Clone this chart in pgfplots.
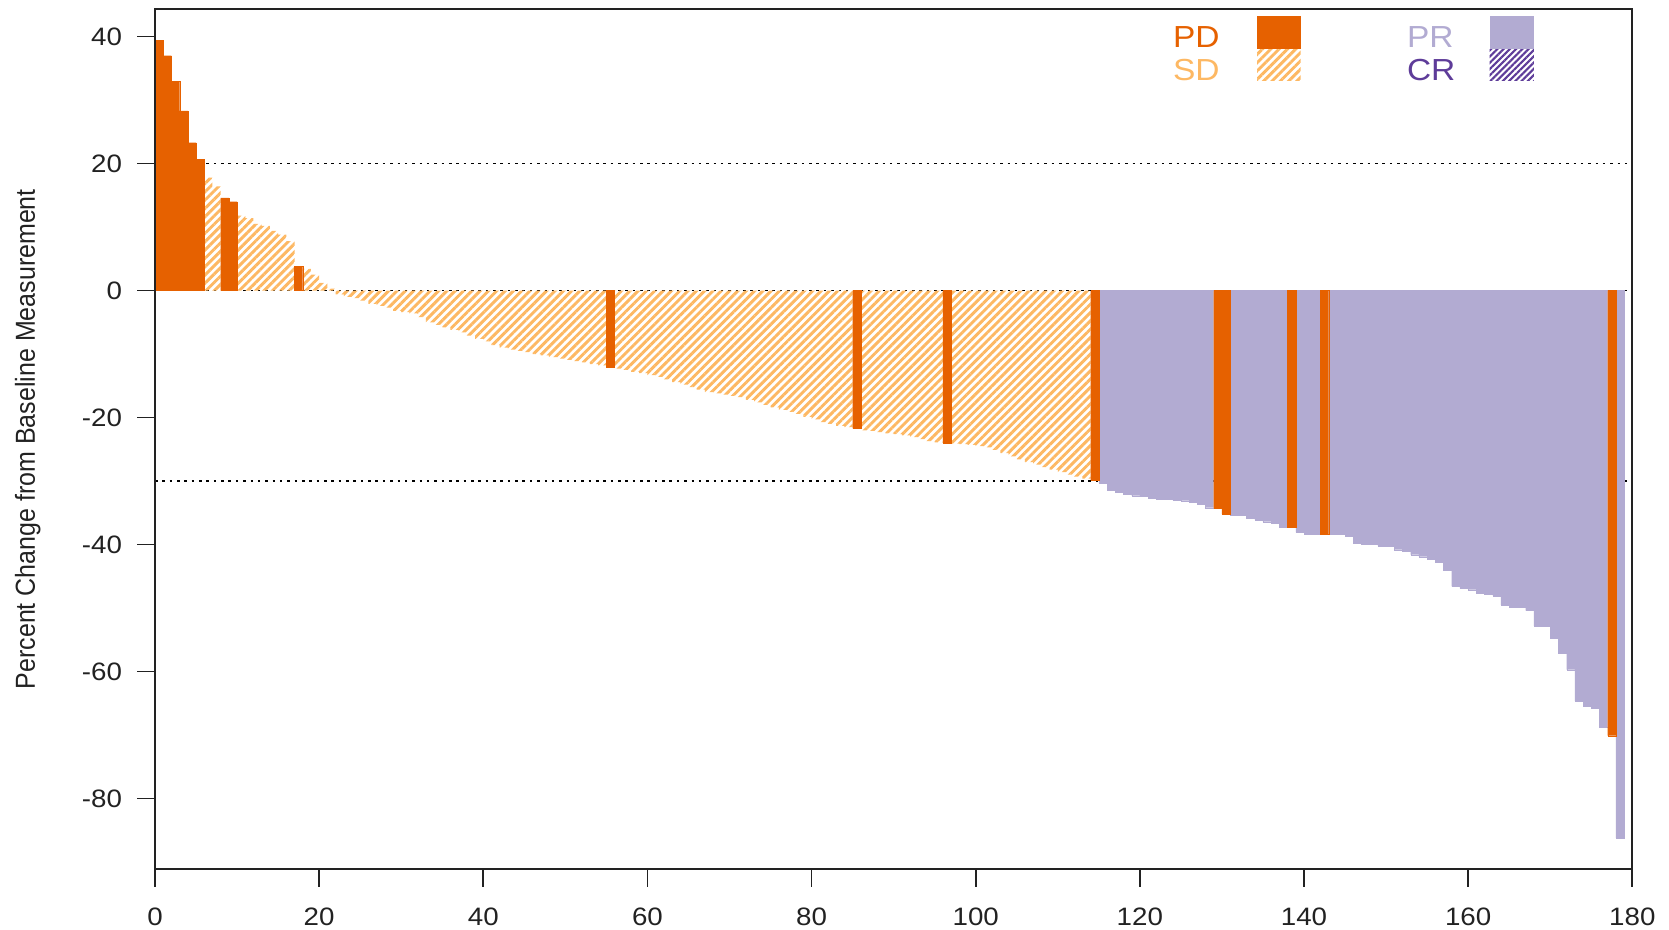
\documentclass[border=0pt]{standalone}
\usepackage{graphicx}
\usepackage{pgfplots}
\usepackage{pgfplotstable}
\pgfplotsset{compat=1.18}
\usepackage{fontspec}
\setmainfont{Liberation Sans}
\usetikzlibrary{patterns.meta}
\definecolor{pdcol}{HTML}{E66100}
\definecolor{sdcol}{HTML}{FDB863}
\definecolor{prcol}{HTML}{B2ABD2}
\definecolor{crcol}{HTML}{5E3C99}
\definecolor{axcol}{HTML}{222222}

% PD = progressive disease (solid dark orange)
\pgfplotstableread{
k v
0 39.4
1 37.0
2 33.0
3 28.3
4 23.3
5 20.7
8 14.6
9 14.0
17 3.8
55 -12.1
85 -21.7
96 -24.0
114 -29.9
129 -34.3
130 -35.2
138 -37.2
142 -38.3
177 -70.1
}\pdtable

% SD = stable disease (hatched light orange)
\pgfplotstableread{
k v
6 17.8
7 16.4
10 11.8
11 11.4
12 10.5
13 10.2
14 9.4
15 8.8
16 7.8
18 3.4
19 2.5
20 1.2
21 0.3
22 -0.6
23 -1.0
24 -1.2
25 -1.6
26 -2.1
27 -2.4
28 -2.7
29 -3.2
30 -3.4
31 -3.6
32 -4.2
33 -5.0
34 -5.4
35 -5.8
36 -6.2
37 -6.6
38 -7.1
39 -7.6
40 -8.0
41 -8.6
42 -9.0
43 -9.3
44 -9.5
45 -9.7
46 -10.0
47 -10.2
48 -10.5
49 -10.7
50 -10.9
51 -11.1
52 -11.3
53 -11.6
54 -11.8
56 -12.3
57 -12.5
58 -12.8
59 -13.0
60 -13.3
61 -13.6
62 -14.0
63 -14.4
64 -14.8
65 -15.2
66 -15.6
67 -16.0
68 -16.2
69 -16.4
70 -16.6
71 -16.8
72 -17.2
73 -17.6
74 -18.0
75 -18.4
76 -18.8
77 -19.1
78 -19.4
79 -19.9
80 -20.3
81 -20.7
82 -21.0
83 -21.3
84 -21.5
86 -22.0
87 -22.1
88 -22.3
89 -22.5
90 -22.6
91 -22.8
92 -23.1
93 -23.4
94 -23.7
95 -23.9
97 -24.1
98 -24.2
99 -24.3
100 -24.5
101 -24.7
102 -25.1
103 -25.6
104 -26.1
105 -26.6
106 -27.0
107 -27.4
108 -27.8
109 -28.2
110 -28.6
111 -29.0
112 -29.3
113 -29.6
}\sdtable

% PR = partial response (solid light purple)
\pgfplotstableread{
k v
115 -30.3
116 -31.4
117 -31.8
118 -32.0
119 -32.3
120 -32.4
121 -32.7
122 -32.8
123 -32.8
124 -33.0
125 -33.1
126 -33.3
127 -33.7
128 -34.2
131 -35.4
132 -35.4
133 -35.8
134 -36.1
135 -36.4
136 -36.6
137 -37.2
139 -38.1
140 -38.3
141 -38.3
143 -38.3
144 -38.3
145 -38.7
146 -39.8
147 -39.9
148 -39.9
149 -40.2
150 -40.2
151 -40.8
152 -41.1
153 -41.6
154 -41.9
155 -42.3
156 -42.8
157 -44.0
158 -46.6
159 -46.9
160 -47.1
161 -47.7
162 -47.8
163 -48.1
164 -49.5
165 -49.8
166 -49.9
167 -50.4
168 -52.8
169 -52.8
170 -54.7
171 -57.1
172 -59.7
173 -64.6
174 -65.5
175 -65.8
176 -68.8
178 -86.2
}\prtable

\newcommand{\wide}[1]{\scalebox{1.1}[1]{#1}}

\begin{document}
\begin{tikzpicture}
\begin{axis}[name=ax,
  scale only axis, width=703.5pt, height=409.4pt,
  xmin=0, xmax=180, ymin=-91.1, ymax=44.3,
  axis on top,
  xtick={0,20,...,180}, ytick={-80,-60,...,40},
  tick align=outside, tick pos=left,
  major tick length=8.5pt,
  axis line style={line width=0.8pt, axcol},
  every tick/.style={line width=0.8pt, axcol},
  /pgf/number format/assume math mode=true,
  xticklabel={\wide{\pgfmathprintnumber{\tick}}},
  yticklabel={\wide{\pgfmathprintnumber{\tick}}},
  ticklabel style={font=\fontsize{12}{14}\selectfont, text=axcol},
  xticklabel style={anchor=north, inner sep=0pt, yshift=-10pt},
  yticklabel style={anchor=east, inner sep=0pt, xshift=-7pt},
  ylabel={\scalebox{1}[1.1]{Percent Change from Baseline Measurement}},
  every axis y label/.style={at={(axis description cs:-0.0862,0.5)}, anchor=center, rotate=90, font=\fontsize{11.9}{14}\selectfont, text=axcol},
]
% reference lines
\addplot[black, line width=0.6pt, dash pattern=on 1.2pt off 2.3pt] coordinates {(0,20) (180,20)};
\addplot[black, line width=0.6pt, dash pattern=on 1.2pt off 2.3pt] coordinates {(0,0) (180,0)};
\addplot[black, line width=0.6pt, dash pattern=on 1.2pt off 2.3pt] coordinates {(0,-30) (180,-30)};
% bars
\addplot[ybar, bar width=1, bar shift=0pt, draw=none,
  pattern={Lines[angle=45,distance=2.8pt,line width=1.4pt]}, pattern color=sdcol]
  table[x expr=\thisrow{k}+0.5, y=v] {\sdtable};
\addplot[ybar, bar width=1, bar shift=0pt, fill=prcol, draw=prcol, line width=0.1pt]
  table[x expr=\thisrow{k}+0.5, y=v] {\prtable};
\addplot[ybar, bar width=1, bar shift=0pt, fill=pdcol, draw=pdcol, line width=0.1pt]
  table[x expr=\thisrow{k}+0.5, y=v] {\pdtable};
% legend
\fill[pdcol] (axis cs:134.3,43.3) rectangle (axis cs:139.6,38.0);
\fill[pattern={Lines[angle=45,distance=2.8pt,line width=1.4pt]}, pattern color=sdcol] (axis cs:134.3,38.0) rectangle (axis cs:139.6,33.1);
\fill[prcol] (axis cs:162.6,43.3) rectangle (axis cs:168.0,38.0);
\fill[pattern={Lines[angle=45,distance=2.1pt,line width=1.0pt]}, pattern color=crcol] (axis cs:162.6,38.0) rectangle (axis cs:168.0,33.1);
\node[anchor=west, inner sep=0pt, text=pdcol, font=\fontsize{14.5}{16}\selectfont] at (axis cs:124.0,40.0) {\wide{PD}};
\node[anchor=west, inner sep=0pt, text=sdcol, font=\fontsize{14.5}{16}\selectfont] at (axis cs:124.0,34.8) {\wide{SD}};
\node[anchor=west, inner sep=0pt, text=prcol, font=\fontsize{14.5}{16}\selectfont] at (axis cs:152.5,40.0) {\wide{PR}};
\node[anchor=west, inner sep=0pt, text=crcol, font=\fontsize{14.5}{16}\selectfont] at (axis cs:152.5,34.8) {\wide{CR}};
\end{axis}
\pgfresetboundingbox
\path[use as bounding box] ([shift={(-73.81pt,-28.57pt)}]ax.south west) rectangle ([shift={(17.48pt,4.43pt)}]ax.north east);
\end{tikzpicture}
\end{document}
